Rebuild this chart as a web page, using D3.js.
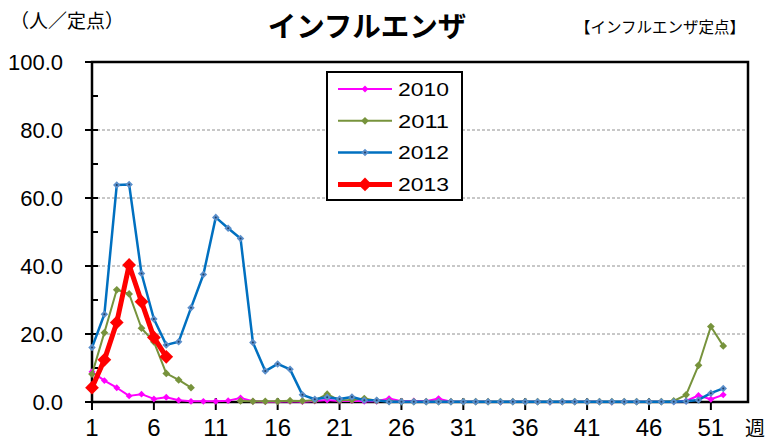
<!DOCTYPE html>
<html>
<head>
<meta charset="utf-8">
<script src="https://cdn.jsdelivr.net/npm/d3@7"></script>
<style>
  html, body { margin: 0; padding: 0; background: #fff; }
  svg { display: block; }
</style>
</head>
<body>
<div id="chart"></div>
<script>
/* globals d3 */
// week categories and tick labels
const weeks = d3.range(1, 53)
const weekTicks = [1, 6, 11, 16, 21, 26, 31, 36, 41, 46, 51]
const valueTicks = [0, 20, 40, 60, 80, 100]
const minorTicks = [10, 30, 50, 70, 90]

// per-sentinel values (null = no data)
const s2010 = [8.9, 6.3, 4.2, 1.8, 2.3, 0.9, 1.4, 0.5, 0.2, 0.2,
  0.2, 0.4, 1.2, 0.2, 0.1, 0.1, 0.2, 0.1, 0.3, 0.6,
  0.3, 0.4, 0.2, 0.2, 1.0, 0.2, 0.3, 0.2, 1.0, 0.1,
  0.1, 0.1, 0.1, 0.0, 0.1, 0.1, 0.1, 0.0, 0.1, 0.1,
  0.1, 0.1, 0.0, 0.1, 0.1, 0.1, 0.1, 0.1, 0.3, 1.9,
  0.8, 2.1]
const s2011 = [8.2, 20.4, 33.0, 31.8, 21.7, 17.7, 8.4, 6.5, 4.2, null,
  null, null, 0.3, 0.2, 0.2, 0.2, 0.4, 0.3, 0.5, 2.3,
  0.5, 0.6, 1.0, 0.4, 0.2, 0.1, 0.1, 0.1, 0.1, 0.1,
  0.1, 0.1, 0.1, 0.1, 0.1, 0.1, 0.1, 0.1, 0.1, 0.1,
  0.1, 0.1, 0.1, 0.1, 0.1, 0.1, 0.1, 0.3, 2.1, 10.8,
  22.2, 16.5]
const s2012 = [16.0, 25.8, 63.8, 64.0, 37.8, 24.4, 16.8, 17.7, 27.7, 37.5,
  54.3, 51.1, 48.1, 17.5, 9.1, 11.2, 9.6, 2.1, 0.8, 1.4,
  0.9, 1.5, 0.5, 0.5, 0.1, 0.1, 0.1, 0.1, 0.1, 0.1,
  0.1, 0.1, 0.1, 0.1, 0.1, 0.1, 0.1, 0.1, 0.1, 0.1,
  0.1, 0.1, 0.1, 0.1, 0.1, 0.1, 0.1, 0.1, 0.2, 0.6,
  2.6, 4.0]
const s2013 = [4.2, 12.4, 23.4, 40.3, 29.5, 19.0, 13.3]

const series = [
  { name: '2010', values: s2010, color: '#FF00FF', marker: '#FF00FF', width: 2, size: 30 },
  { name: '2011', values: s2011, color: '#77933C', marker: '#77933C', width: 2, size: 38 },
  { name: '2012', values: s2012, color: '#0070C0', marker: '#5B8FCB', width: 2.5, size: 36, dot: true },
  { name: '2013', values: s2013, color: '#FF0000', marker: '#FF0000', width: 5, size: 120 }
]

const W = 767, H = 442
const m = { left: 92, right: 748, top: 62, bottom: 402 }
const latin = '"Liberation Sans", Arial, sans-serif'
const cjk = '"Noto Sans CJK JP", sans-serif'

const x = d3.scaleLinear().domain([1, 54]).range([m.left, m.right])
const y = d3.scaleLinear().domain([0, 100]).range([m.bottom, m.top])

const svg = d3.select('#chart').append('svg')
  .attr('width', W).attr('height', H)

// titles
svg.append('text').attr('x', 367).attr('y', 37)
  .attr('text-anchor', 'middle').attr('font-family', cjk)
  .attr('font-weight', 'bold').attr('font-size', 28.5)
  .text('インフルエンザ')
svg.append('text').attr('x', 10).attr('y', 28)
  .attr('font-family', cjk).attr('font-size', 19)
  .text('（人／定点）')
svg.append('text').attr('x', 745).attr('y', 33)
  .attr('text-anchor', 'end').attr('font-family', cjk).attr('font-size', 15.5)
  .text('【インフルエンザ定点】')

// grid
svg.append('g').selectAll('line')
  .data(valueTicks.filter(v => v > 0 && v < 100))
  .join('line')
  .attr('x1', m.left).attr('x2', m.right)
  .attr('y1', d => y(d)).attr('y2', d => y(d))
  .attr('stroke', '#909090').attr('stroke-width', 1)
  .attr('stroke-dasharray', '3,2')

// frame
svg.append('rect')
  .attr('x', m.left).attr('y', m.top)
  .attr('width', m.right - m.left).attr('height', m.bottom - m.top)
  .attr('fill', 'none').attr('stroke', '#000').attr('stroke-width', 2.5)

// y axis ticks and labels
const yAxis = svg.append('g').attr('transform', `translate(${m.left},0)`)
yAxis.selectAll('line.major').data(valueTicks).join('line')
  .attr('class', 'major')
  .attr('x1', -7).attr('x2', 6)
  .attr('y1', d => y(d)).attr('y2', d => y(d))
  .attr('stroke', '#000').attr('stroke-width', 2)
yAxis.selectAll('line.minor').data(minorTicks).join('line')
  .attr('class', 'minor')
  .attr('x1', 0).attr('x2', 6)
  .attr('y1', d => y(d)).attr('y2', d => y(d))
  .attr('stroke', '#000').attr('stroke-width', 2)
yAxis.selectAll('text').data(valueTicks).join('text')
  .attr('x', -29).attr('y', d => y(d))
  .attr('dy', '0.36em')
  .attr('text-anchor', 'end')
  .attr('font-family', latin).attr('font-size', 22)
  .text(d => d3.format('.1f')(d))

// x axis ticks and labels
const xAxis = svg.append('g').attr('transform', `translate(0,${m.bottom})`)
xAxis.selectAll('line').data(weekTicks).join('line')
  .attr('x1', d => x(d)).attr('x2', d => x(d))
  .attr('y1', -4).attr('y2', 8)
  .attr('stroke', '#000').attr('stroke-width', 2)
xAxis.selectAll('text').data(weekTicks).join('text')
  .attr('x', d => x(d)).attr('y', 34)
  .attr('text-anchor', 'middle')
  .attr('font-family', latin).attr('font-size', 24)
  .text(d => d)
svg.append('text').attr('x', 745).attr('y', 436)
  .attr('font-family', cjk).attr('font-size', 20)
  .text('週')

// series
const line = d3.line()
  .defined(d => d.v !== null)
  .x(d => x(d.w)).y(d => y(d.v))
const diamond = d3.symbol().type(d3.symbolDiamond2)

series.forEach(s => {
  const pts = s.values.map((v, i) => ({ w: weeks[i], v }))
  const g = svg.append('g')
  g.append('path').datum(pts)
    .attr('d', line)
    .attr('fill', 'none')
    .attr('stroke', s.color)
    .attr('stroke-width', s.width)
    .attr('stroke-linejoin', 'round')
  g.selectAll('path.mk').data(pts.filter(d => d.v !== null)).join('path')
    .attr('class', 'mk')
    .attr('transform', d => `translate(${x(d.w)},${y(d.v)})`)
    .attr('d', diamond.size(s.size))
    .attr('fill', s.marker)
  if (s.dot)
    g.selectAll('circle').data(pts).join('circle')
      .attr('cx', d => x(d.w)).attr('cy', d => y(d.v))
      .attr('r', 1).attr('fill', '#1f3f66')
})

// legend
const lg = svg.append('g')
lg.append('rect').attr('x', 327).attr('y', 72).attr('width', 135).attr('height', 128)
  .attr('fill', '#fff').attr('stroke', '#000').attr('stroke-width', 2)
series.forEach((s, i) => {
  const ly = 89 + i * 31.8
  lg.append('line').attr('x1', 338).attr('x2', 392).attr('y1', ly).attr('y2', ly)
    .attr('stroke', s.color).attr('stroke-width', s.width)
  lg.append('path').attr('transform', `translate(365,${ly})`)
    .attr('d', diamond.size(s.size)).attr('fill', s.marker)
  if (s.dot)
    lg.append('circle').attr('cx', 365).attr('cy', ly).attr('r', 1).attr('fill', '#1f3f66')
  lg.append('text').attr('x', 398).attr('y', ly).attr('dy', '0.36em')
    .attr('font-family', latin).attr('font-size', 19)
    .attr('textLength', 51).attr('lengthAdjust', 'spacingAndGlyphs')
    .text(s.name)
})
</script>
</body>
</html>
